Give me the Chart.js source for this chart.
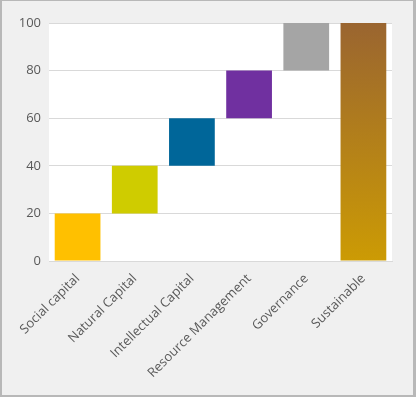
<!DOCTYPE html>
<html>
<head>
<meta charset="utf-8">
<script src="https://cdn.jsdelivr.net/npm/chart.js@4"></script>
<style>
	html, body { margin: 0; padding: 0; background: #f0f0f0; }
	#frame {
		position: relative;
		width: 416px;
		height: 397px;
		box-sizing: border-box;
		border-style: solid;
		border-color: #b8b8b8;
		border-width: 1px 3px 2px 2px;
		background: #f0f0f0;
	}
	#wrap { position: absolute; left: 0; top: 0; width: 411px; height: 394px; }
</style>
</head>
<body>
<div id="frame"><div id="wrap"><canvas id="chart"></canvas></div></div>
<script>
const categories = ['Social capital', 'Natural Capital', 'Intellectual Capital', 'Resource Management', 'Governance', 'Sustainable'];
const barStarts = [0, 20, 40, 60, 80, 0];
const barEnds = [20, 40, 60, 80, 100, 100];
const barColors = ['#ffc000', '#cfcc00', '#006699', '#7030a0', '#a5a5a5', null];
const yTicks = [0, 20, 40, 60, 80, 100];

const plotBg = {
	id: 'plotBg',
	beforeDraw(chart) {
		const a = chart.chartArea;
		const ctx = chart.ctx;
		ctx.save();
		ctx.fillStyle = '#ffffff';
		ctx.fillRect(a.left, a.top, a.right - a.left, a.bottom - a.top);
		ctx.restore();
	}
};

const fill = (context) => {
	const c = barColors[context.dataIndex];
	if (c) return c;
	const area = context.chart.chartArea;
	if (!area) return '#b8861a';
	const g = context.chart.ctx.createLinearGradient(0, area.top, 0, area.bottom);
	g.addColorStop(0, '#9a6530');
	g.addColorStop(1, '#cc9b04');
	return g;
};

new Chart(document.getElementById('chart'), {
	type: 'bar',
	data: {
		labels: categories,
		datasets: [{
			data: barStarts.map((s, i) => [s, barEnds[i]]),
			backgroundColor: fill,
			borderWidth: 0,
			categoryPercentage: 1,
			barPercentage: 0.8
		}]
	},
	options: {
		responsive: true,
		maintainAspectRatio: false,
		animation: false,
		layout: { padding: { top: 22, right: 21, left: 0, bottom: 0 } },
		scales: {
			x: {
				grid: { display: false },
				border: { color: '#d9d9d9' },
				ticks: {
					color: '#595959',
					font: { family: 'Open Sans', size: 13 },
					maxRotation: 45,
					minRotation: 45,
					padding: 2
				},
				afterFit: (scale) => { scale.height = 134; }
			},
			y: {
				min: 0,
				max: 100,
				afterBuildTicks: (scale) => { scale.ticks = yTicks.map(v => ({ value: v })); },
				grid: { color: '#d9d9d9', drawTicks: false },
				border: { display: false },
				ticks: {
					color: '#595959',
					font: { family: 'Open Sans', size: 13 },
					padding: 8
				},
				afterFit: (scale) => { scale.width = 47; }
			}
		},
		plugins: {
			legend: { display: false },
			tooltip: { enabled: false }
		}
	},
	plugins: [plotBg]
});
</script>
</body>
</html>
